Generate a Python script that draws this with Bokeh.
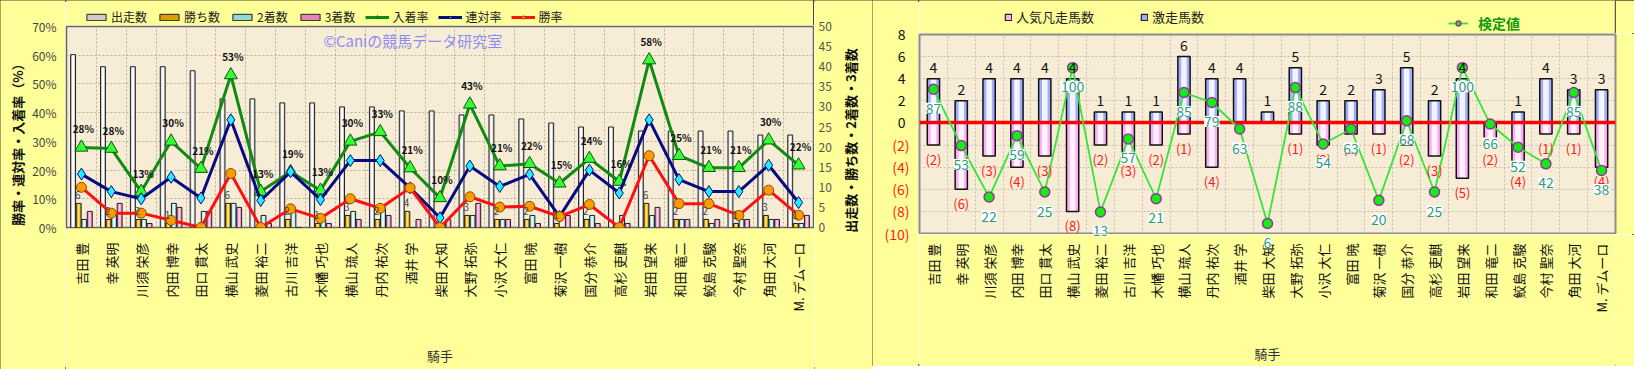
import math
import numpy as np
from bokeh.plotting import figure
from bokeh.models import (ColumnDataSource, Range1d, FixedTicker, LabelSet, Label, Legend, LegendItem)
from bokeh.layouts import row, column
from bokeh.transform import dodge
from bokeh.embed import file_html
from bokeh.resources import INLINE
from bokeh.core.properties import value

# ---------------- data ----------------
jockeys = ["吉田 豊", "幸 英明", "川須 栄彦", "内田 博幸", "田口 貫太", "横山 武史", "菱田 裕二",
           "古川 吉洋", "木幡 巧也", "横山 琉人", "丹内 祐次", "酒井 学", "柴田 大知", "大野 拓弥",
           "小沢 大仁", "富田 暁", "菊沢 一樹", "国分 恭介", "高杉 吏麒", "岩田 望来", "和田 竜二",
           "鮫島 克駿", "今村 聖奈", "角田 大河", "M. デムーロ"]
starts  = [43, 40, 40, 40, 39, 32, 32, 31, 31, 30, 30, 29, 29, 28, 28, 27, 26, 25, 25, 24, 24, 24, 24, 23, 23]
wins    = [6, 2, 2, 1, 0, 6, 0, 2, 1, 3, 2, 4, 0, 3, 2, 2, 1, 2, 0, 6, 2, 2, 1, 3, 1]
seconds = [2, 3, 2, 6, 4, 6, 3, 4, 2, 4, 5, 0, 1, 3, 2, 3, 0, 3, 3, 3, 2, 1, 2, 2, 1]
thirds  = [4, 6, 1, 5, 4, 5, 1, 0, 1, 2, 3, 2, 2, 6, 2, 1, 3, 1, 1, 5, 2, 2, 2, 2, 3]
win_rate    = [14.0, 5.0, 5.0, 2.5, 0.0, 18.8, 0.0, 6.5, 3.2, 10.0, 6.7, 13.8, 0.0, 10.7, 7.1,
               7.4, 3.8, 8.0, 0.0, 25.0, 8.3, 8.3, 4.2, 13.0, 4.3]
rentai_rate = [18.6, 12.5, 10.0, 17.5, 10.3, 37.5, 9.4, 19.4, 9.7, 23.3, 23.3, 13.8, 3.4, 21.4, 14.3,
               18.5, 3.8, 20.0, 12.0, 37.5, 16.7, 12.5, 12.5, 21.7, 8.7]
place_rate  = [27.9, 27.5, 12.5, 30.0, 20.5, 53.1, 12.5, 19.4, 12.9, 30.0, 33.3, 20.7, 10.3, 42.9, 21.4,
               22.2, 15.4, 24.0, 16.0, 58.3, 25.0, 20.8, 20.8, 30.4, 21.7]

gekiso      = [4, 2, 4, 4, 4, 4, 1, 1, 1, 6, 4, 4, 1, 5, 2, 2, 3, 5, 2, 4, 0, 1, 4, 3, 3]
ninki_bonso = [2, 6, 3, 4, 3, 8, 2, 3, 2, 1, 4, 0, 0, 1, 2, 1, 1, 2, 3, 5, 2, 4, 1, 1, 4]
kentei      = [87, 53, 22, 59, 25, 100, 13, 57, 21, 85, 79, 63, 6, 88, 54, 63, 20, 68, 25, 100, 66, 52, 42, 85, 38]

left_ticks = list(range(0, 71, 10))
cnt_ticks = list(range(0, 51, 5))
right_ticks = list(range(-10, 9, 2))

FONT = "Noto Sans CJK JP"
PANEL_BG = "#FFFF99"
PLOT_BG = "#F7EDD6"
BORDER = {"outline": "2px solid #4a4a2a", "outline-offset": "-2px"}

n = len(jockeys)
idx = np.arange(n)
name_map = {int(i): j for i, j in enumerate(jockeys)}


def bare(p):
    p.xaxis.visible = False
    p.yaxis.visible = False
    p.xgrid.visible = False
    p.ygrid.visible = False


def strip(width, height, y_range=None, x_range=None):
    """A plain yellow strip whose frame fills the whole canvas (legends / tick labels)."""
    s = figure(width=width, height=height, output_backend="svg", toolbar_location=None,
               x_range=x_range or Range1d(0, 1), y_range=y_range or Range1d(0, 1),
               min_border_left=0, min_border_right=0, min_border_top=0, min_border_bottom=0,
               background_fill_color=PANEL_BG, border_fill_color=PANEL_BG, outline_line_color=None)
    bare(s)
    return s


# legend swatches live outside the visible range of the strips
OFF = dict(x=[5], top=[5])
OFF_L = dict(x=[5, 6], y=[5, 5])

# ================= LEFT PANEL =================
H = 369
L_YL = 65            # left tick strip
L_MID = 749          # plot column
L_YR = 58            # right tick strip
L_TOP = 25           # legend strip
L_BOT = 142          # below frame
L_FRAME_H = 201
PXL = L_FRAME_H / 70
PXC = L_FRAME_H / 50

p1 = figure(width=L_MID, height=H - L_TOP, output_backend="svg", toolbar_location=None,
            x_range=Range1d(-0.5, n - 0.5), y_range=Range1d(0, 70),
            min_border_left=1, min_border_right=1, min_border_top=1, min_border_bottom=L_BOT,
            background_fill_color=PLOT_BG, border_fill_color=PANEL_BG,
            outline_line_color="#666666", outline_line_width=1.5)
p1.extra_y_ranges = {"cnt": Range1d(0, 50)}
p1.yaxis.visible = False

src = ColumnDataSource(dict(x=idx, starts=starts, wins=wins, seconds=seconds, thirds=thirds,
                            win_rate=win_rate, rentai_rate=rentai_rate, place_rate=place_rate,
                            place_lbl=[f"{int(v + 0.5)}%" for v in place_rate]))

pt1 = strip(L_MID, L_TOP)

bar_specs = [("starts", -0.279, "#cccccc", "#ffffff", "出走数"),
             ("wins", -0.093, "#dd9d00", "#ffe070", "勝ち数"),
             ("seconds", 0.093, "#94d8d8", "#ecffff", "2着数"),
             ("thirds", 0.279, "#e286b6", "#ffcce6", "3着数")]
items1 = []
for col, off, base, hi, label in bar_specs:
    xs = dodge("x", off, range=p1.x_range)
    p1.vbar(x=xs, top=col, bottom=0, width=0.165, source=src, y_range_name="cnt",
            fill_color=base, line_color=None)
    p1.vbar(x=xs, top=col, bottom=0, width=0.07, source=src, y_range_name="cnt",
            fill_color=hi, line_color=None)
    p1.vbar(x=xs, top=col, bottom=0, width=0.165, source=src, y_range_name="cnt",
            fill_color=None, line_color="#222222", line_width=1)
    sw = pt1.vbar(fill_color=base, line_color="#222222", line_width=1, width=0.1, **OFF)
    items1.append(LegendItem(label=label, renderers=[sw]))

line_specs = [("place_rate", "#118a11", "triangle", 13, "#33ff33", "#145214", "入着率"),
              ("rentai_rate", "#0a0a80", "diamond", 12, "#22eeff", "#0a0a80", "連対率"),
              ("win_rate", "#ff1010", "circle", 10, "#ff9a00", "#8a4a00", "勝率")]
for col, lc, mk, sz, fc, mlc, label in line_specs:
    p1.line("x", col, source=src, line_color=lc, line_width=3)
    p1.scatter("x", col, source=src, marker=mk, size=sz, fill_color=fc, line_color=mlc, line_width=1)
    sl = pt1.line(line_color=lc, line_width=3, **OFF_L)
    sm = pt1.scatter(x=[5], y=[5], marker=mk, size=sz - 4, fill_color=fc, line_color=mlc, line_width=1)
    items1.append(LegendItem(label=label, renderers=[sl, sm]))

p1.add_layout(LabelSet(x="x", y="place_rate", text="place_lbl", source=src, x_offset=2, y_offset=11,
                       text_align="center", text_baseline="bottom", text_font=value(FONT),
                       text_font_size="10px", text_font_style="bold", text_color="#111111"))
wsel = [i for i in range(n) if wins[i] > 0]
wsrc = ColumnDataSource(dict(x=[int(idx[i]) for i in wsel], y=[wins[i] for i in wsel],
                             t=[str(wins[i]) for i in wsel]))
p1.add_layout(LabelSet(x=dodge("x", -0.12, range=p1.x_range), y="y", text="t", source=wsrc,
                       y_range_name="cnt", y_offset=4, text_align="center", text_baseline="bottom",
                       text_font=value(FONT), text_font_size="10px", text_color="#444444"))

p1.add_layout(Label(x=8.1, y=61.5, text="©Caniの競馬データ研究室", text_font=FONT,
                    text_font_size="15px", text_color="#8c8cf5"))

xa = p1.xaxis[0]
xa.ticker = FixedTicker(ticks=list(range(n)))
xa.major_label_overrides = name_map
xa.major_label_orientation = math.pi / 2
xa.major_label_text_font = FONT
xa.major_label_text_font_size = "13px"
xa.major_label_text_color = "#111111"
xa.major_label_standoff = 9
xa.major_tick_line_color = None
xa.minor_tick_line_color = None
xa.axis_line_color = None
xa.axis_label = "騎手"
xa.axis_label_text_font = FONT
xa.axis_label_text_font_size = "13px"
xa.axis_label_text_font_style = "normal"
xa.axis_label_text_color = "#333333"
xa.axis_label_standoff = 31

p1.ygrid.ticker = FixedTicker(ticks=left_ticks[1:-1])
p1.xgrid.ticker = FixedTicker(ticks=[i + 0.5 for i in range(n - 1)])
for g in (p1.xgrid[0], p1.ygrid[0]):
    g.grid_line_color = "#b9b0a0"
    g.grid_line_dash = "2 2"
    g.grid_line_width = 1

leg1 = Legend(items=items1, orientation="horizontal", location=(83 - L_YL, 0),
              background_fill_alpha=0, border_line_color=None, glyph_width=24, glyph_height=8,
              label_text_font=FONT, label_text_font_size="12px", label_text_color="#222222",
              spacing=10, padding=0, margin=0, label_standoff=3, label_height=16)
pt1.add_layout(leg1)

# left tick strip (percent scale)
ylL = strip(L_YL, H, y_range=Range1d(-L_BOT / PXL, 70 + (L_TOP + 1) / PXL))
ylL.add_layout(LabelSet(x=L_YL - 9, x_units="screen", y="y", text="t",
                        source=ColumnDataSource(dict(y=left_ticks, t=[f"{t}%" for t in left_ticks])),
                        text_align="right", text_baseline="middle", text_font=value(FONT),
                        text_font_size="12px", text_color="#444444"))
ylL.add_layout(Label(x=17, y=H - 141, x_units="screen", y_units="screen", angle=math.pi / 2,
                     text="勝率・連対率・入着率（%）", text_align="center", text_baseline="middle",
                     text_font=FONT, text_font_size="13px", text_font_style="bold",
                     text_color="#111111"))

# right tick strip (count scale)
yrL = strip(L_YR, H, y_range=Range1d(-L_BOT / PXC, 50 + (L_TOP + 1) / PXC))
yrL.add_layout(LabelSet(x=4, x_units="screen", y="y", text="t",
                        source=ColumnDataSource(dict(y=cnt_ticks, t=[str(t) for t in cnt_ticks])),
                        text_align="left", text_baseline="middle", text_font=value(FONT),
                        text_font_size="12px", text_color="#555555"))
yrL.add_layout(Label(x=36, y=H - 140, x_units="screen", y_units="screen", angle=math.pi / 2,
                     text="出走数・勝ち数・2着数・3着数", text_align="center", text_baseline="middle",
                     text_font=FONT, text_font_size="13px", text_font_style="bold",
                     text_color="#111111"))

left_panel = row(ylL, column(pt1, p1, spacing=0), yrL, spacing=0, styles=BORDER)

# ================= RIGHT PANEL =================
R_W = 716            # width of the right-hand column
YL_W = 46            # width of the tick-label strip
TOP_H = 33           # legend strip
MID_H = 201          # plot strip (frame 199 px)
BOT_H = 132          # name strip
PX = 199 / 18        # pixels per unit on the count scale
K_PER_UNIT = 120 / 18
PXK = 199 / 120      # pixels per unit of the (hidden) 検定値 scale
BOX_OFF = 19         # value boxes sit this many px below their point
BOX_HALF = 9

p2 = figure(width=R_W, height=MID_H, output_backend="svg", toolbar_location=None,
            x_range=Range1d(-0.5, n - 0.5), y_range=Range1d(-10, 8),
            min_border_left=1, min_border_right=19, min_border_top=1, min_border_bottom=1,
            background_fill_color=PLOT_BG, border_fill_color=PANEL_BG,
            outline_line_color="#8c8c8c", outline_line_width=2)
p2.extra_y_ranges = {"kentei": Range1d(0, 120)}
p2.xaxis.visible = False
p2.yaxis.visible = False

src2 = ColumnDataSource(dict(x=idx, pos=gekiso, neg=[-v for v in ninki_bonso], kentei=kentei,
                             names=jockeys))

p2.vbar(x="x", top=0, bottom="neg", width=0.44, source=src2, fill_color="#ffaef5", line_color=None)
p2.vbar(x="x", top=0, bottom="neg", width=0.2, source=src2, fill_color="#fff2fd", line_color=None)
p2.vbar(x="x", top=0, bottom="neg", width=0.44, source=src2, fill_color=None,
        line_color="#111111", line_width=1.5)
p2.vbar(x="x", top="pos", bottom=0, width=0.44, source=src2, fill_color="#a2acff", line_color=None)
p2.vbar(x="x", top="pos", bottom=0, width=0.2, source=src2, fill_color="#f2f4ff", line_color=None)
p2.vbar(x="x", top="pos", bottom=0, width=0.44, source=src2, fill_color=None,
        line_color="#111111", line_width=1.5)

p2.hspan(y=[0], line_color="#ff0000", line_width=3.5)

p2.line("x", "kentei", source=src2, y_range_name="kentei", line_color="#33e633", line_width=1.8)
p2.scatter("x", "kentei", source=src2, y_range_name="kentei", marker="circle", size=10,
           fill_color="#11ee11", line_color="#993399", line_width=1.5)

psel = [i for i in range(n) if gekiso[i] > 0]
psrc = ColumnDataSource(dict(x=[int(idx[i]) for i in psel], y=[gekiso[i] for i in psel],
                             t=[str(gekiso[i]) for i in psel]))
p2.add_layout(LabelSet(x="x", y="y", text="t", source=psrc, y_offset=6, text_align="center",
                       text_baseline="bottom", text_font=value(FONT), text_font_size="14px",
                       text_color="#111111"))
nsel = [i for i in range(n) if ninki_bonso[i] > 0]
nsrc = ColumnDataSource(dict(x=[int(idx[i]) for i in nsel], y=[-ninki_bonso[i] for i in nsel],
                             t=[f"({ninki_bonso[i]})" for i in nsel]))
p2.add_layout(LabelSet(x="x", y="y", text="t", source=nsrc, y_offset=-5, text_align="center",
                       text_baseline="top", text_font=value(FONT), text_font_size="13px",
                       text_color="#ff1a1a"))


def value_boxes(range_name, keep):
    sel = [i for i in range(n) if keep(kentei[i])]
    s = ColumnDataSource(dict(x=[int(idx[i]) for i in sel], kentei=[kentei[i] for i in sel],
                              klbl=[str(kentei[i]) for i in sel]))
    return LabelSet(x="x", y="kentei", text="klbl", source=s, y_range_name=range_name,
                    y_offset=-BOX_OFF, text_align="center", text_baseline="middle",
                    text_font=value(FONT), text_font_size="14px", text_color="#2e9a7e",
                    background_fill_color="#ffffff")


# boxes visible inside the plot frame / spilling below it
p2.add_layout(value_boxes("kentei", lambda v: v * PXK - BOX_OFF + BOX_HALF > 0))

p2.ygrid.ticker = FixedTicker(ticks=[t for t in right_ticks if -10 < t < 8])
p2.xgrid.ticker = FixedTicker(ticks=[i + 0.5 for i in range(n - 1)])
for g in (p2.xgrid[0], p2.ygrid[0]):
    g.grid_line_color = "#c4bcac"
    g.grid_line_dash = "2 2"
    g.grid_line_width = 1

# name strip under the plot
pb_top = -10 - 1 / PX
pb_bot = -10 - (BOT_H + 1) / PX
pb = figure(width=R_W, height=BOT_H, output_backend="svg", toolbar_location=None,
            x_range=p2.x_range, y_range=Range1d(pb_bot, pb_top),
            min_border_left=1, min_border_right=19, min_border_top=0, min_border_bottom=0,
            background_fill_color=PANEL_BG, border_fill_color=PANEL_BG, outline_line_color=None)
pb.extra_y_ranges = {"kentei": Range1d((pb_bot + 10) * K_PER_UNIT, (pb_top + 10) * K_PER_UNIT)}
bare(pb)
pb.add_layout(LabelSet(x="x", y=BOT_H - 9, y_units="screen", text="names", source=src2,
                       angle=math.pi / 2, text_align="right", text_baseline="middle",
                       text_font=value(FONT), text_font_size="13px", text_color="#111111"))
pb.add_layout(value_boxes("kentei", lambda v: v * PXK - BOX_OFF - BOX_HALF < 0))
pb.add_layout(Label(x=696 / 2, y=13, x_units="screen", y_units="screen", text="騎手",
                    text_align="center", text_baseline="middle", text_font=FONT,
                    text_font_size="13px", text_color="#333333"))

# legend strip above the plot
pt = strip(R_W, TOP_H)
lp = pt.vbar(width=0.1, fill_color="#ffaef5", line_color="#222222", line_width=1.2, **OFF)
lb = pt.vbar(width=0.1, fill_color="#a2acff", line_color="#222222", line_width=1.2, **OFF)
lg = pt.line(line_color="#33e633", line_width=1.8, **OFF_L)
lgs = pt.scatter(x=[5], y=[5], marker="circle", size=10, fill_color="#11ee11",
                 line_color="#993399", line_width=1.5)
leg2 = Legend(items=[LegendItem(label="人気凡走馬数", renderers=[lp]),
                     LegendItem(label="激走馬数", renderers=[lb])],
              orientation="horizontal", location=(85, 7), background_fill_alpha=0,
              border_line_color=None, glyph_width=8, glyph_height=8, label_text_font=FONT,
              label_text_font_size="13px", label_text_color="#222222", spacing=46, padding=0,
              margin=0, label_standoff=4, label_height=18)
pt.add_layout(leg2)
leg3 = Legend(items=[LegendItem(label="検定値", renderers=[lg, lgs])],
              orientation="horizontal", location=(529, 0), background_fill_alpha=0,
              border_line_color=None, glyph_width=20, glyph_height=12, label_text_font=FONT,
              label_text_font_size="14px", label_text_color="#119911", label_text_font_style="bold",
              padding=0, margin=0, label_standoff=10, label_height=12)
pt.add_layout(leg3)

# tick label strip on the left
yl = strip(YL_W, TOP_H + MID_H + BOT_H,
           y_range=Range1d(-10 - (BOT_H + 1) / PX, 8 + (TOP_H + 1) / PX))
pos_ticks = [t for t in right_ticks if t >= 0]
neg_ticks = [t for t in right_ticks if t < 0]
yl.add_layout(LabelSet(x=YL_W - 13, x_units="screen", y="y", text="t",
                       source=ColumnDataSource(dict(y=pos_ticks, t=[str(t) for t in pos_ticks])),
                       text_align="right", text_baseline="middle", text_font=value(FONT),
                       text_font_size="14px", text_color="#111111"))
yl.add_layout(LabelSet(x=YL_W - 9, x_units="screen", y="y", text="t",
                       source=ColumnDataSource(dict(y=neg_ticks, t=[f"({-t})" for t in neg_ticks])),
                       text_align="right", text_baseline="middle", text_font=value(FONT),
                       text_font_size="14px", text_color="#ff1a1a"))

right_panel = row(yl, column(pt, p2, pb, spacing=0), spacing=0, styles=BORDER)

layout = row(left_panel, right_panel, spacing=0)
open("out.html", "w").write(file_html(layout, INLINE))
